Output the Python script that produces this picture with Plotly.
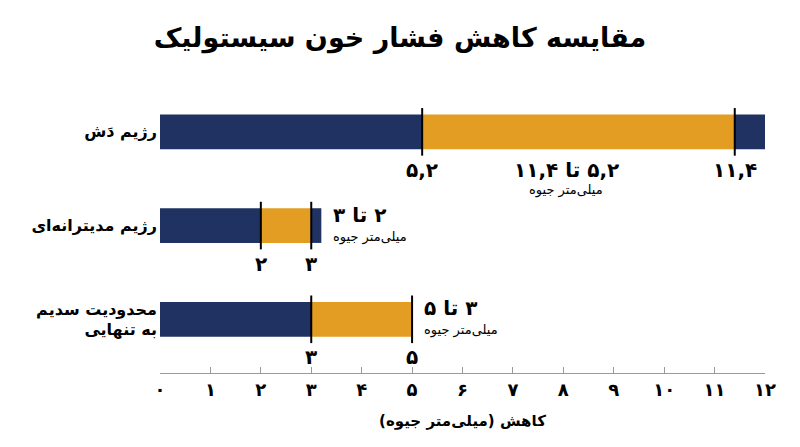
import plotly.graph_objects as go

# data
categories = ["رژیم دَش", "رژیم مدیترانه‌ای", "محدودیت سدیم<br>به تنهایی"]
low = [5.2, 2, 3]
high = [11.4, 3, 5]
bar_end = [12, 3.2, 5]
low_text = ["۵,۲", "۲", "۳"]
high_text = ["۱۱,۴", "۳", "۵"]
range_text = ["۵,۲ تا ۱۱,۴", "۲ تا ۳", "۳ تا ۵"]
unit_text = "میلی‌متر جیوه"
tick_vals = [0, 1, 2, 3, 4, 5, 6, 7, 8, 9, 10, 11, 12]
tick_text = ["۰", "۱", "۲", "۳", "۴", "۵", "۶", "۷", "۸", "۹", "۱۰", "۱۱", "۱۲"]
title_text = "مقایسه کاهش فشار خون سیستولیک"
xaxis_title = "کاهش (میلی‌متر جیوه)"

NAVY = "#1f3262"
ORANGE = "#e29d22"
FONT = "DejaVu Sans"
RLM = "\u200f"


# wrap each line with right-to-left marks so the browser orders it properly
def rtl(s):
  return "<br>".join(RLM + part + RLM for part in s.split("<br>"))


cats = [rtl(c) for c in categories]

fig = go.Figure()

# navy part up to the low value
fig.add_trace(go.Bar(
  y=cats, x=low, base=[0] * len(low), orientation="h",
  marker=dict(color=NAVY, line=dict(width=0)), width=0.37,
  hoverinfo="skip"
))
# orange range
fig.add_trace(go.Bar(
  y=cats, x=[h - l for h, l in zip(high, low)], base=low, orientation="h",
  marker=dict(color=ORANGE, line=dict(width=0)), width=0.37,
  hoverinfo="skip"
))
# navy tail after the high value
fig.add_trace(go.Bar(
  y=cats, x=[e - h for e, h in zip(bar_end, high)], base=high, orientation="h",
  marker=dict(color=NAVY, line=dict(width=0)), width=0.37,
  hoverinfo="skip"
))
# black marker lines at low and high
fig.add_trace(go.Scatter(
  y=cats + cats, x=low + high, mode="markers",
  marker=dict(symbol="line-ns", size=34, line=dict(width=2, color="black")),
  hoverinfo="skip"
))

annotations = []
for i, c in enumerate(cats):
  for v, t in ((low[i], low_text[i]), (high[i], high_text[i])):
    annotations.append(dict(
      x=v, y=c, xref="x", yref="y", text="<b>" + rtl(t) + "</b>",
      showarrow=False, yshift=-38, yanchor="middle", xanchor="center",
      font=dict(family=FONT, size=20, color="black")
    ))
  if high[i] - low[i] > 3:
    # wide range: label sits between the markers, under the bar
    mid = (low[i] + high[i]) / 2
    annotations.append(dict(
      x=mid, y=c, text="<b>" + rtl(range_text[i]) + "</b>", showarrow=False,
      yshift=-38, xshift=-12, xanchor="center", yanchor="middle",
      font=dict(family=FONT, size=20, color="black")
    ))
    annotations.append(dict(
      x=mid, y=c, text=rtl(unit_text), showarrow=False,
      yshift=-58, xshift=-12, xanchor="center", yanchor="middle",
      font=dict(family=FONT, size=13, color="black")
    ))
  else:
    annotations.append(dict(
      x=bar_end[i], y=c, text="<b>" + rtl(range_text[i]) + "</b>", showarrow=False,
      xshift=10, yshift=11, xanchor="left", yanchor="middle",
      font=dict(family=FONT, size=20, color="black")
    ))
    annotations.append(dict(
      x=bar_end[i], y=c, text=rtl(unit_text), showarrow=False,
      xshift=10, yshift=-11, xanchor="left", yanchor="middle",
      font=dict(family=FONT, size=13, color="black")
    ))

# the page body adds 8px of margin, so the margins below allow for it
fig.update_layout(
  width=800, height=447,
  paper_bgcolor="white", plot_bgcolor="white",
  margin=dict(l=152, r=43, t=77, b=82, autoexpand=False),
  showlegend=False, barmode="overlay",
  title=dict(text="<b>" + rtl(title_text) + "</b>", x=0.49, xanchor="center",
             y=0.933, yanchor="middle",
             font=dict(family=FONT, size=27, color="black")),
  annotations=annotations,
  xaxis=dict(
    range=[0, 12], tickvals=tick_vals, ticktext=["<b>" + t + "</b>" for t in tick_text],
    showgrid=False, zeroline=False, showline=True, linecolor="#9a9a9a", linewidth=1,
    ticks="inside", ticklen=6, tickcolor="#9a9a9a", automargin=False,
    tickfont=dict(family=FONT, size=18, color="black"),
    title=dict(text="<b>" + rtl(xaxis_title) + "</b>", standoff=16,
               font=dict(family=FONT, size=15, color="black")),
  ),
  yaxis=dict(
    type="category", range=[2.573, -0.5], showgrid=False, zeroline=False,
    showline=False, ticks="", ticklabelstandoff=2, automargin=False,
    tickfont=dict(family=FONT, size=16, color="black"),
    ticktext=["<b>" + c + "</b>" for c in cats], tickvals=cats,
  ),
)

fig.write_html("out.html")
